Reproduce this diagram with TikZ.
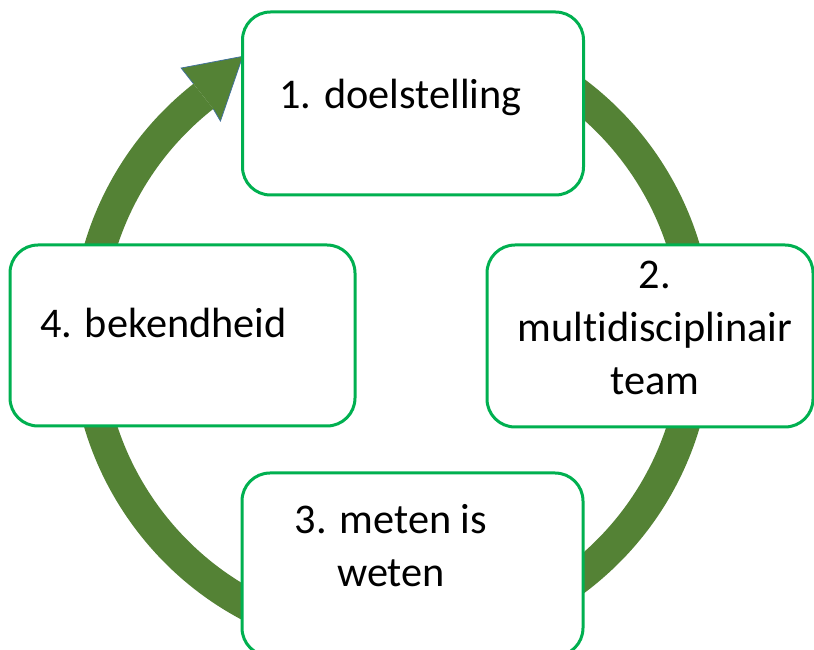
\documentclass[tikz,border=0pt]{standalone}
\usepackage{fontspec}
\setmainfont{Carlito}[Ligatures=NoCommon]
\definecolor{ringgreen}{HTML}{548235}
\definecolor{boxgreen}{HTML}{00B050}
\definecolor{headline}{HTML}{41719C}
\tikzset{
    cardbox/.style={draw=boxgreen, line width=3, rounded corners=28, fill=white},
    cardtext/.style={inner sep=0, align=center, font=\fontsize{42.3}{53}\selectfont}
}
\begin{document}
\begin{tikzpicture}[x=1pt,y=1pt]
    \useasboundingbox (0,0) rectangle (814,650);
    \coordinate (C) at (392,314);

    % Ring arrow
    \draw[ringgreen, line width=32] (C) ++(128.2:305) arc[start angle=128.2, end angle=430, radius=305];
    \filldraw[fill=ringgreen, draw=headline, line width=0.75, line join=miter]
        ([shift={(128.2:321)}]C) -- ([shift={(128.2:341)}]C) -- ([shift={(118.1:317)}]C)
        -- ([shift={(128.6:275)}]C) -- ([shift={(128.2:289)}]C);

    % Boxes
    \foreach \n/\x/\y/\w/\h in {
        1/413/546.5/341/183,
        2/650/314/326/182,
        3/412.5/85.5/341/183,
        4/182.5/314.5/345/181
    } {
        \node[cardbox, minimum width=\w, minimum height=\h] (box\n) at (\x,\y) {};
    }

    % Texts
    \node[cardtext, anchor=base] (txt1) at ([xshift=-12.5,yshift=-5.5]box1.center) {1. doelstelling};
    \node[cardtext] (txt2) at ([xshift=5,yshift=8]box2.center) {2.\\multidisciplinair\\team};
    \node[cardtext] (txt3) at ([xshift=-21.5,yshift=18.5]box3.center) {3. meten is\\weten};
    \node[cardtext, anchor=base] (txt4) at ([xshift=-19,yshift=-2.5]box4.center) {4. bekendheid};
\end{tikzpicture}
\end{document}
